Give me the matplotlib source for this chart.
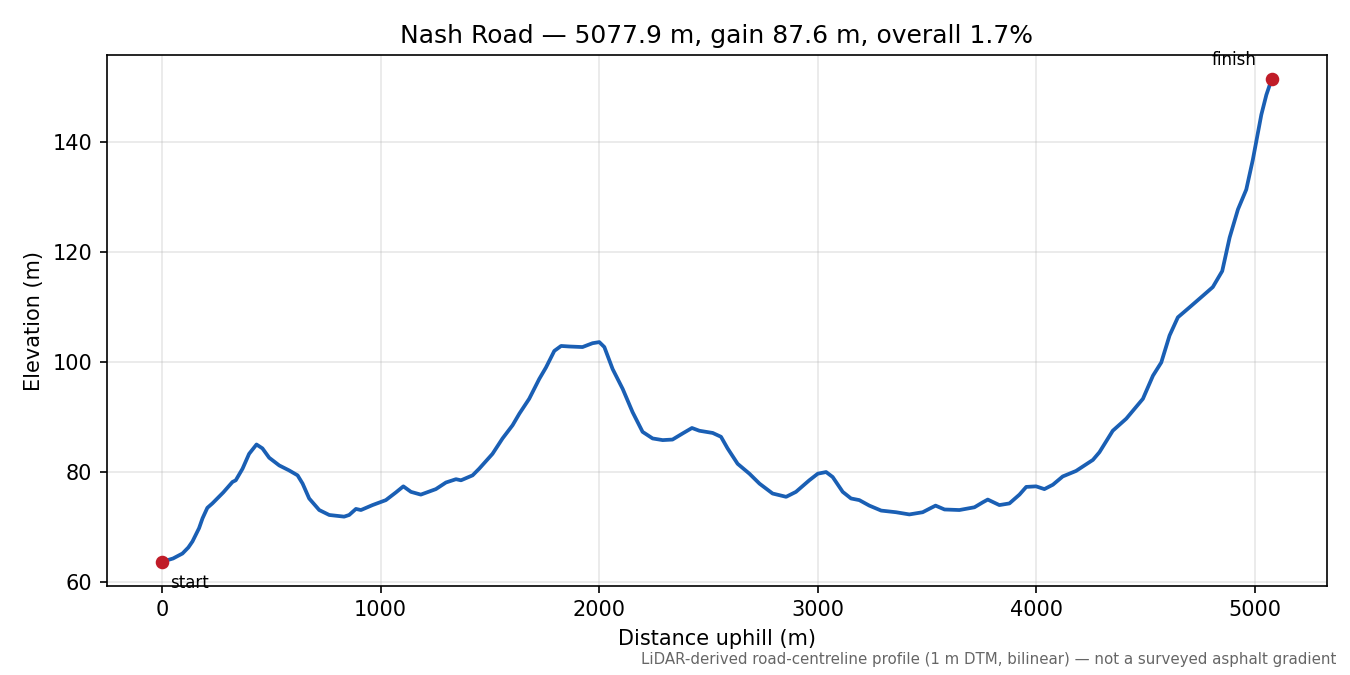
import matplotlib
matplotlib.use("Agg")
import matplotlib.pyplot as plt

# Perfil: distancia (m) y elevación (m)
distance = [0, 50, 93, 120, 139, 169, 185, 207, 230, 280, 322, 337, 368, 398,
            432, 459, 490, 536, 581, 620, 643, 673, 719, 765, 833, 856, 887,
            910, 963, 1024, 1070, 1104, 1139, 1184, 1253, 1299, 1345, 1368,
            1421, 1451, 1512, 1558, 1604, 1635, 1680, 1726, 1757, 1795, 1826,
            1864, 1924, 1970, 2001, 2024, 2062, 2108, 2153, 2199, 2245, 2291,
            2336, 2382, 2425, 2459, 2520, 2558, 2588, 2634, 2688, 2734, 2794,
            2856, 2901, 2962, 3001, 3039, 3069, 3115, 3153, 3191, 3237, 3291,
            3359, 3420, 3481, 3520, 3540, 3581, 3649, 3718, 3756, 3779, 3832,
            3878, 3924, 3955, 4000, 4038, 4077, 4122, 4183, 4260, 4290, 4351,
            4413, 4489, 4535, 4573, 4611, 4649, 4702, 4763, 4809, 4852, 4886,
            4924, 4962, 4992, 5031, 5054, 5077.9]
elevation = [63.7, 64.3, 65.2, 66.3, 67.4, 69.8, 71.6, 73.5, 74.3, 76.3, 78.2,
             78.5, 80.6, 83.3, 85.0, 84.3, 82.6, 81.2, 80.3, 79.4, 77.9, 75.2,
             73.1, 72.2, 71.9, 72.2, 73.3, 73.1, 74.0, 74.9, 76.3, 77.4, 76.4,
             75.9, 76.9, 78.1, 78.7, 78.5, 79.4, 80.6, 83.3, 86.1, 88.5, 90.6,
             93.3, 96.9, 99.0, 102.0, 102.9, 102.8, 102.7, 103.4, 103.6, 102.7,
             98.7, 95.1, 90.9, 87.3, 86.1, 85.8, 85.9, 87.0, 88.0, 87.5, 87.1,
             86.4, 84.3, 81.5, 79.7, 77.9, 76.1, 75.5, 76.4, 78.5, 79.7, 80.0,
             79.1, 76.4, 75.2, 74.9, 73.9, 73.0, 72.7, 72.3, 72.7, 73.5, 73.9,
             73.2, 73.1, 73.6, 74.5, 75.0, 74.0, 74.3, 75.9, 77.3, 77.4, 76.9,
             77.7, 79.2, 80.2, 82.2, 83.6, 87.5, 89.7, 93.3, 97.5, 99.9, 104.8,
             108.1, 109.9, 112.0, 113.6, 116.5, 122.6, 127.7, 131.3, 136.7,
             144.9, 148.5, 151.3]

title = "Nash Road — 5077.9 m, gain 87.6 m, overall 1.7%"
footnote = "LiDAR-derived road-centreline profile (1 m DTM, bilinear) — not a surveyed asphalt gradient"

fig, ax = plt.subplots(figsize=(9, 4.5), dpi=150)
fig.subplots_adjust(left=0.079, right=0.983, top=0.918, bottom=0.132)

ax.plot(distance, elevation, color="#1a5fb4", linewidth=1.8, zorder=2,
        solid_joinstyle="round")
ax.plot([distance[0], distance[-1]], [elevation[0], elevation[-1]], "o",
        color="#c01c28", markersize=5.5, zorder=3)

ax.annotate("start", (distance[0], elevation[0]), xytext=(4, -6),
            textcoords="offset points", ha="left", va="top", fontsize=8)
ax.annotate("finish", (distance[-1], elevation[-1]), xytext=(-7, 5),
            textcoords="offset points", ha="right", va="bottom", fontsize=8)

ax.grid(True, alpha=0.3)
ax.set_title(title)
ax.set_xlabel("Distance uphill (m)")
ax.set_ylabel("Elevation (m)")

fig.text(0.99, 0.012, footnote, ha="right", va="bottom", fontsize=7.2, color="#666666")

fig.savefig("out.png")
